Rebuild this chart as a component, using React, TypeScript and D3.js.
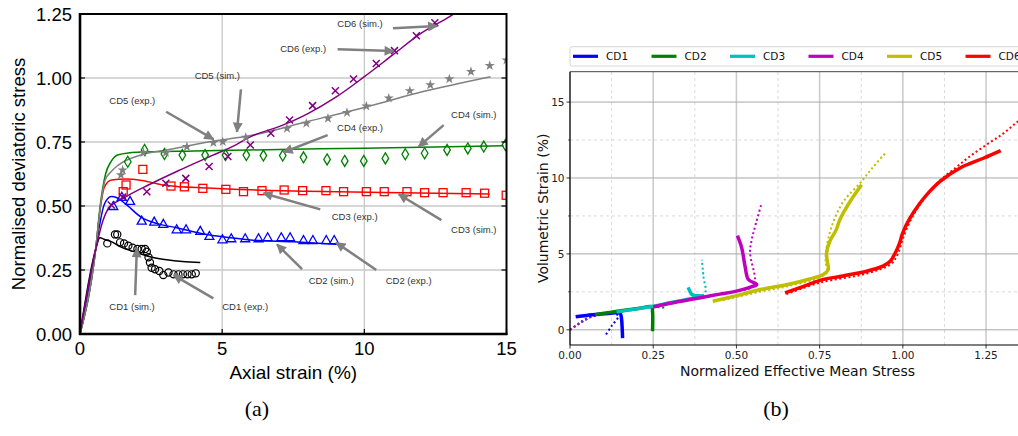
import React from "react";
import * as d3 from "d3";

// ---------- panel (a): axial strain (%) vs normalised deviatoric stress ----------
const simCD1 = [[0,0],[0.55,0.33],[0.7,0.376],[0.85,0.37],[1.12,0.36],[1.41,0.341],[2.0,0.318],[2.46,0.302],[3.05,0.29],[3.6,0.283],[4.23,0.279]];
const simCD2 = [[0,0],[0.55,0.33],[0.68,0.42],[0.85,0.505],[1.1,0.537],[1.3,0.532],[1.58,0.51],[2.17,0.455],[2.7,0.432],[3.4,0.415],[4.3,0.392],[5.4,0.375],[6.0,0.367],[7.5,0.36],[9.13,0.35]];
const simCD3 = [[0,0],[0.55,0.33],[0.7,0.48],[0.86,0.575],[1.11,0.602],[1.6,0.605],[2.17,0.6],[3.05,0.58],[4.5,0.57],[6.0,0.563],[8.0,0.558],[10.68,0.553],[14.41,0.547]];
const simCD4 = [[0,0],[0.55,0.33],[0.72,0.51],[0.9,0.625],[1.1,0.675],[1.35,0.70],[2.0,0.71],[4.0,0.715],[6.0,0.719],[10.0,0.726],[14.9,0.735]];
const simCD5 = [[0,0],[0.55,0.33],[0.72,0.5],[0.88,0.6],[1.1,0.635],[1.35,0.66],[2.17,0.70],[3.05,0.719],[4.5,0.75],[6.0,0.775],[8.0,0.83],[10.1,0.888],[12.0,0.945],[14.44,1.005]];
const simCD6 = [[0,0],[0.55,0.33],[0.8,0.44],[1.0,0.49],[1.52,0.53],[2.46,0.585],[3.5,0.64],[4.5,0.69],[5.5,0.74],[6.0,0.771],[7.0,0.81],[8.0,0.86],[9.0,0.925],[10.0,1.005],[11.0,1.09],[12.0,1.175],[13.0,1.24],[13.5,1.275]];

const expCD1 = [[0.96,0.354],[1.23,0.389],[1.31,0.389],[1.41,0.358],[1.55,0.354],[1.70,0.345],[1.85,0.337],[2.02,0.332],[2.17,0.332],[2.29,0.332],[2.35,0.321],[2.41,0.30],[2.46,0.279],[2.52,0.259],[2.64,0.253],[2.79,0.246],[2.93,0.23],[3.11,0.24],[3.29,0.233],[3.46,0.233],[3.62,0.233],[3.78,0.233],[3.93,0.233],[4.07,0.237]];
const expCD2 = [[1.17,0.50],[1.47,0.536],[1.76,0.52],[2.17,0.443],[2.61,0.439],[2.93,0.43],[3.4,0.409],[3.73,0.409],[4.23,0.403],[4.55,0.383],[5.01,0.37],[5.32,0.374],[5.81,0.374],[6.28,0.374],[6.6,0.378],[7.08,0.378],[7.39,0.378],[7.86,0.367],[8.19,0.367],[8.66,0.367],[8.94,0.367]];
const expCD3 = [[1.52,0.556],[1.62,0.582],[2.21,0.643],[3.2,0.578],[3.67,0.575],[4.32,0.569],[5.13,0.565],[5.75,0.556],[6.4,0.56],[7.18,0.5625],[7.83,0.56],[8.65,0.56],[9.27,0.556],[10.07,0.556],[10.7,0.556],[11.5,0.556],[12.12,0.552],[12.77,0.552],[13.58,0.552],[14.23,0.55],[14.99,0.542]];
const expCD4 = [[1.68,0.673],[2.27,0.719],[2.97,0.703],[3.6,0.699],[4.4,0.699],[5.12,0.699],[5.85,0.699],[6.45,0.697],[7.13,0.697],[7.86,0.69],[8.69,0.682],[9.31,0.676],[9.98,0.676],[10.74,0.686],[11.44,0.702],[12.12,0.706],[12.91,0.719],[13.64,0.725],[14.2,0.732],[14.96,0.738]];
const expCD5 = [[1.44,0.621],[1.5,0.64],[2.23,0.708],[3.02,0.708],[3.76,0.732],[4.69,0.747],[5.02,0.751],[5.83,0.768],[7.28,0.803],[7.96,0.823],[8.72,0.842],[9.39,0.865],[10.07,0.89],[10.86,0.921],[11.6,0.95],[12.32,0.973],[12.99,0.996],[13.75,1.025],[14.41,1.048],[15.0,1.07]];
const expCD6 = [[1.1,0.504],[1.5,0.535],[2.35,0.556],[3.02,0.589],[3.72,0.608],[4.54,0.654],[5.2,0.693],[5.99,0.738],[6.71,0.784],[7.37,0.836],[8.18,0.892],[8.98,0.95],[9.62,0.996],[10.42,1.057],[11.06,1.107],[11.83,1.165],[12.48,1.216]];

const xTicksA = [0, 5, 10, 15];
const yTicksA = [0, 0.25, 0.5, 0.75, 1.0, 1.25];

// annotations: label, text centre, arrow tail, arrow head (data units)
const notesA = [
  { label: "CD5 (sim.)", tx: 4.83, ty: 1.01, x1: 5.66, y1: 0.956, x2: 5.52, y2: 0.79 },
  { label: "CD5 (exp.)", tx: 1.84, ty: 0.911, x1: 3.03, y1: 0.868, x2: 4.69, y2: 0.761 },
  { label: "CD6 (sim.)", tx: 9.85, ty: 1.211, x1: 11.01, y1: 1.194, x2: 12.56, y2: 1.203 },
  { label: "CD6 (exp.)", tx: 7.85, ty: 1.116, x1: 9.06, y1: 1.112, x2: 11.03, y2: 1.105 },
  { label: "CD4 (sim.)", tx: 13.85, ty: 0.858, x1: 12.79, y1: 0.816, x2: 11.91, y2: 0.732 },
  { label: "CD4 (exp.)", tx: 9.85, ty: 0.806, x1: 8.71, y1: 0.777, x2: 7.16, y2: 0.71 },
  { label: "CD3 (exp.)", tx: 9.66, ty: 0.458, x1: 8.45, y1: 0.487, x2: 6.45, y2: 0.55 },
  { label: "CD3 (sim.)", tx: 13.85, ty: 0.409, x1: 12.71, y1: 0.445, x2: 11.21, y2: 0.546 },
  { label: "CD2 (sim.)", tx: 8.84, ty: 0.208, x1: 7.81, y1: 0.253, x2: 6.93, y2: 0.35 },
  { label: "CD2 (exp.)", tx: 11.56, ty: 0.208, x1: 10.42, y1: 0.25, x2: 9.01, y2: 0.357 },
  { label: "CD1 (sim.)", tx: 1.83, ty: 0.107, x1: 1.94, y1: 0.152, x2: 2.0, y2: 0.335 },
  { label: "CD1 (exp.)", tx: 5.81, ty: 0.107, x1: 4.69, y1: 0.139, x2: 3.29, y2: 0.23 },
];

// ---------- panel (b): normalized mean stress vs volumetric strain (%) ----------
const volCD1 = [[0.017,0.855],[0.05,0.95],[0.1,1.05],[0.14,1.12],[0.151,1.08],[0.155,0.7],[0.157,0.0],[0.158,-0.55]];
const volCD2 = [[0.075,1.0],[0.12,1.15],[0.17,1.3],[0.21,1.42],[0.245,1.52],[0.248,1.2],[0.248,-0.09]];
const volCD3 = [[0.14,1.18],[0.2,1.38],[0.25,1.55],[0.3,1.78],[0.35,2.0],[0.40,2.22],[0.375,2.26],[0.366,2.33],[0.36,2.55],[0.355,2.8]];
const volCD4 = [[0.25,1.5],[0.3,1.75],[0.35,1.95],[0.4,2.15],[0.45,2.35],[0.5,2.55],[0.54,2.8],[0.561,2.98],[0.536,3.31],[0.526,4.18],[0.516,5.39],[0.503,6.2]];
const volCD5 = [[0.429,1.88],[0.5,2.25],[0.571,2.65],[0.661,3.02],[0.72,3.35],[0.761,3.64],[0.776,3.97],[0.773,4.5],[0.771,5.07],[0.78,5.8],[0.8,6.6],[0.811,7.26],[0.84,8.4],[0.876,9.56]];
const volCD6 = [[0.646,2.43],[0.7,2.85],[0.751,3.26],[0.82,3.55],[0.891,3.86],[0.94,4.2],[0.962,4.51],[0.977,5.06],[0.99,5.7],[1.0,6.4],[1.02,7.3],[1.05,8.3],[1.08,9.1],[1.112,9.78],[1.172,10.66],[1.242,11.3],[1.294,11.8]];

const modCD1 = [[0,0],[0.02,0.3],[0.05,0.75],[0.09,0.98],[0.13,1.1],[0.145,0.9],[0.125,0.25],[0.105,-0.42]];
const modCD2 = [[0,0],[0.03,0.45],[0.07,0.9],[0.12,1.1],[0.2,1.35],[0.25,1.5],[0.29,1.45]];
const modCD3 = [[0,0],[0.03,0.45],[0.07,0.9],[0.15,1.2],[0.25,1.55],[0.35,1.95],[0.38,2.15],[0.406,2.43],[0.401,3.5],[0.396,4.62]];
const modCD4 = [[0,0],[0.03,0.45],[0.07,0.9],[0.15,1.2],[0.3,1.75],[0.45,2.35],[0.55,2.85],[0.556,3.31],[0.541,5.07],[0.546,5.94],[0.559,7.04],[0.576,8.36]];
const modCD5 = [[0.46,1.95],[0.57,2.5],[0.66,2.9],[0.75,3.45],[0.772,3.8],[0.768,4.5],[0.77,5.3],[0.786,6.8],[0.82,8.4],[0.876,9.78],[0.91,10.7],[0.946,11.6]];
const modCD6 = [[0.65,2.35],[0.75,3.1],[0.89,3.7],[0.965,4.35],[0.985,5.0],[1.0,6.0],[1.03,7.5],[1.07,8.8],[1.11,9.8],[1.16,10.7],[1.2,11.4],[1.252,12.2],[1.3,12.9],[1.342,13.66],[1.38,14.3]];

const namesB = ["CD1", "CD2", "CD3", "CD4", "CD5", "CD6"];
const colorsB = ["#0000ff", "#008000", "#00bfbf", "#bf00bf", "#bfbf00", "#ff0000"];
const xTicksB = [0, 0.25, 0.5, 0.75, 1.0, 1.25];
const xMinorB = [0.125, 0.375, 0.625, 0.875, 1.125, 1.375];
const yTicksB = [0, 5, 10, 15];
const yMinorB = [2.5, 7.5, 12.5];

const fA = "'Liberation Sans', Arial, sans-serif";
const fB = "'DejaVu Sans', sans-serif";

function PanelA() {
  const x = d3.scaleLinear().domain([0, 15]).range([80, 506.5]);
  const y = d3.scaleLinear().domain([0, 1.25]).range([334, 14]);
  const line = d3.line<number[]>().x(d => x(d[0])).y(d => y(d[1])).curve(d3.curveMonotoneX);
  const sims = [
    [simCD1, "#000000"], [simCD2, "#0000ff"], [simCD3, "#ff0000"],
    [simCD4, "#008000"], [simCD5, "#808080"], [simCD6, "#800080"],
  ] as [number[][], string][];
  const star = d3.symbol(d3.symbolStar, 32)() as string;
  const [x0, x1] = x.range();
  const [y0, y1] = y.range();
  return (
    <g>
      <defs>
        <clipPath id="clipA"><rect x={x0} y={y1} width={x1 - x0} height={y0 - y1} /></clipPath>
        <marker id="arr" viewBox="0 0 10 10" refX="9" refY="5" markerWidth="11" markerHeight="10"
          markerUnits="userSpaceOnUse" orient="auto">
          <path d="M0,0 L10,5 L0,10 z" fill="#808080" />
        </marker>
      </defs>
      {/* grid */}
      {xTicksA.slice(1, -1).map(t => <line key={"gx" + t} x1={x(t)} x2={x(t)} y1={y0} y2={y1} stroke="#c8c8c8" strokeWidth={1.3} />)}
      {yTicksA.slice(1, -1).map(t => <line key={"gy" + t} x1={x0} x2={x1} y1={y(t)} y2={y(t)} stroke="#c8c8c8" strokeWidth={1.3} />)}
      <g clipPath="url(#clipA)">
        {sims.map(([d, c], i) => <path key={i} d={line(d) as string} fill="none" stroke={c} strokeWidth={1.5} />)}
        {expCD1.map((d, i) => <circle key={"c" + i} cx={x(d[0])} cy={y(d[1])} r={3.6} fill="none" stroke="#000" strokeWidth={1.2} />)}
        {expCD2.map((d, i) => <path key={"t" + i} transform={`translate(${x(d[0])},${y(d[1])})`} d="M0,-4.5 L4.5,3.5 L-4.5,3.5 Z" fill="none" stroke="#0000ff" strokeWidth={1.3} />)}
        {expCD3.map((d, i) => <rect key={"s" + i} x={x(d[0]) - 4} y={y(d[1]) - 4} width={8} height={8} fill="none" stroke="#ff0000" strokeWidth={1.3} />)}
        {expCD4.map((d, i) => <path key={"d" + i} transform={`translate(${x(d[0])},${y(d[1])})`} d="M0,-5.5 L3.3,0 L0,5.5 L-3.3,0 Z" fill="none" stroke="#008000" strokeWidth={1.3} />)}
        {expCD5.map((d, i) => <path key={"st" + i} transform={`translate(${x(d[0])},${y(d[1])})`} d={star} fill="#808080" />)}
        {expCD6.map((d, i) => (
          <path key={"x" + i} transform={`translate(${x(d[0])},${y(d[1])})`} d="M-3.5,-3.5 L3.5,3.5 M-3.5,3.5 L3.5,-3.5" stroke="#800080" strokeWidth={1.5} />
        ))}
      </g>
      {/* annotations */}
      {notesA.map(n => (
        <g key={n.label}>
          <line x1={x(n.x1)} y1={y(n.y1)} x2={x(n.x2)} y2={y(n.y2)} stroke="#808080" strokeWidth={2.5} markerEnd="url(#arr)" />
          <text x={x(n.tx)} y={y(n.ty)} textAnchor="middle" dominantBaseline="central" fontFamily={fA} fontSize={9.5} fill="#333">{n.label}</text>
        </g>
      ))}
      {/* frame + ticks */}
      <rect x={x0} y={y1} width={x1 - x0} height={y0 - y1} fill="none" stroke="#000" strokeWidth={2} />
      <line x1={x0} x2={x0} y1={y0 + 1} y2={y1 - 1} stroke="#000" strokeWidth={2.6} />
      <line x1={x0 - 1} x2={x1 + 1} y1={y0} y2={y0} stroke="#000" strokeWidth={2.6} />
      {yTicksA.map(t => (
        <g key={"ya" + t}>
          <line x1={x0} x2={x0 + 5} y1={y(t)} y2={y(t)} stroke="#000" strokeWidth={1.2} />
          <line x1={x1} x2={x1 - 5} y1={y(t)} y2={y(t)} stroke="#000" strokeWidth={1.2} />
          <text x={72} y={y(t)} textAnchor="end" dominantBaseline="central" fontFamily={fA} fontSize={18.5} fill="#000">{d3.format(".2f")(t)}</text>
        </g>
      ))}
      {xTicksA.map(t => (
        <g key={"xa" + t}>
          <line x1={x(t)} x2={x(t)} y1={y0} y2={y0 - 5} stroke="#000" strokeWidth={1.2} />
          <text x={x(t)} y={355} textAnchor="middle" fontFamily={fA} fontSize={18.5} fill="#000">{t}</text>
        </g>
      ))}
      <text x={(x0 + x1) / 2} y={379} textAnchor="middle" fontFamily={fA} fontSize={19} fill="#000">Axial strain (%)</text>
      <text transform={`translate(18.5,${(y0 + y1) / 2}) rotate(-90)`} textAnchor="middle" dominantBaseline="central" fontFamily={fA} fontSize={18.5} fill="#000">Normalised deviatoric stress</text>
      <text x={257} y={416} textAnchor="middle" fontFamily="'Liberation Serif', serif" fontSize={22} fill="#000">(a)</text>
    </g>
  );
}

function PanelB() {
  const x = d3.scaleLinear().domain([0, 1.367]).range([570, 1025]);
  const y = d3.scaleLinear().domain([-1, 17]).range([345, 71.7]);
  const line = d3.line<number[]>().x(d => x(d[0])).y(d => y(d[1])).curve(d3.curveCatmullRom.alpha(0.5));
  const vols = [volCD1, volCD2, volCD3, volCD4, volCD5, volCD6];
  const mods = [modCD1, modCD2, modCD3, modCD4, modCD5, modCD6];
  const [x0, x1] = x.range();
  const [y0, y1] = y.range();
  return (
    <g>
      <defs>
        <clipPath id="clipB"><rect x={x0} y={y1} width={x1 - x0} height={y0 - y1} /></clipPath>
      </defs>
      {xMinorB.map(t => <line key={"mx" + t} x1={x(t)} x2={x(t)} y1={y0} y2={y1} stroke="#cfcfcf" strokeWidth={0.8} strokeDasharray="3,3" />)}
      {yMinorB.map(t => <line key={"my" + t} x1={x0} x2={x1} y1={y(t)} y2={y(t)} stroke="#cfcfcf" strokeWidth={0.8} strokeDasharray="3,3" />)}
      {xTicksB.map(t => <line key={"gx" + t} x1={x(t)} x2={x(t)} y1={y0} y2={y1} stroke="#cccccc" strokeWidth={1.6} />)}
      {yTicksB.map(t => <line key={"gy" + t} x1={x0} x2={x1} y1={y(t)} y2={y(t)} stroke="#a8a8a8" strokeWidth={1} />)}
      <g clipPath="url(#clipB)">
        {mods.map((d, i) => <path key={"m" + i} d={line(d) as string} fill="none" stroke={colorsB[i]} strokeWidth={2} strokeDasharray="2,2.6" />)}
        {vols.map((d, i) => <path key={"v" + i} d={line(d) as string} fill="none" stroke={colorsB[i]} strokeWidth={3.5} />)}
      </g>
      <line x1={x0} x2={x0} y1={y0} y2={y1} stroke="#000" strokeWidth={1.2} />
      <line x1={x0} x2={x1} y1={y0} y2={y0} stroke="#000" strokeWidth={1.2} />
      <line x1={x0} x2={x1} y1={y1} y2={y1} stroke="#444" strokeWidth={1} />
      {xTicksB.map(t => (
        <g key={"xt" + t}>
          <line x1={x(t)} x2={x(t)} y1={y0} y2={y0 + 3.5} stroke="#000" strokeWidth={0.8} />
          <text x={x(t)} y={358.5} textAnchor="middle" fontFamily={fB} fontSize={10.5} fill="#222">{d3.format(".2f")(t)}</text>
        </g>
      ))}
      {yTicksB.map(t => (
        <g key={"yt" + t}>
          <line x1={x0} x2={x0 - 3.5} y1={y(t)} y2={y(t)} stroke="#000" strokeWidth={0.8} />
          <text x={564.5} y={y(t)} textAnchor="end" dominantBaseline="central" fontFamily={fB} fontSize={10.5} fill="#222">{t}</text>
        </g>
      ))}
      {yMinorB.map(t => <line key={"ymt" + t} x1={x0} x2={x0 - 2} y1={y(t)} y2={y(t)} stroke="#000" strokeWidth={0.6} />)}
      <text x={(x0 + x1) / 2} y={376} textAnchor="middle" fontFamily={fB} fontSize={14} fill="#111">Normalized Effective Mean Stress</text>
      <text transform={`translate(543,${(y0 + y1) / 2}) rotate(-90)`} textAnchor="middle" dominantBaseline="central" fontFamily={fB} fontSize={14} fill="#111">Volumetric Strain (%)</text>
      {/* legend */}
      <rect x={x0} y={46.7} width={470} height={19.3} rx={2} fill="#fff" stroke="#d6d6d6" strokeWidth={1} />
      {namesB.map((n, i) => (
        <g key={n}>
          <line x1={573 + i * 78.5} x2={598 + i * 78.5} y1={56.3} y2={56.3} stroke={colorsB[i]} strokeWidth={3.2} />
          <text x={606 + i * 78.5} y={56.3} dominantBaseline="central" fontFamily={fB} fontSize={10.5} fill="#111">{n}</text>
        </g>
      ))}
      <text x={776} y={416} textAnchor="middle" fontFamily="'Liberation Serif', serif" fontSize={22} fill="#000">(b)</text>
    </g>
  );
}

export default function App() {
  return (
    <svg width={1018} height={436} style={{ position: "absolute", left: 0, top: 0, background: "#fff" }}>
      <rect width={1018} height={436} fill="#fff" />
      <PanelA />
      <PanelB />
    </svg>
  );
}
